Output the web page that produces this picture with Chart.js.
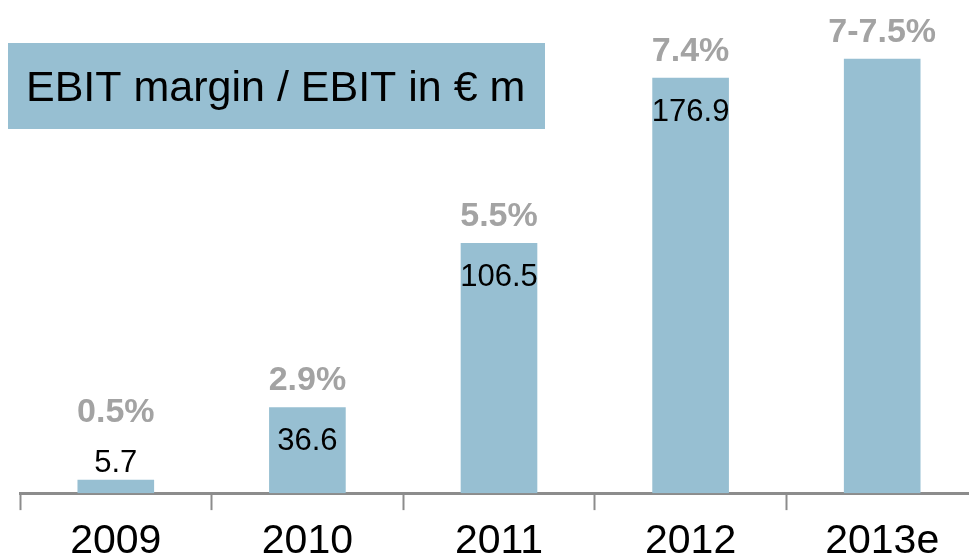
<!DOCTYPE html>
<html>
<head>
<meta charset="utf-8">
<script src="https://cdn.jsdelivr.net/npm/chart.js@4"></script>
<style>
html, body { margin: 0; padding: 0; overflow: hidden; background: #fff; }
#wrap { position: relative; width: 978px; height: 574px; }
</style>
</head>
<body>
<div id="wrap"><canvas id="ebit"></canvas></div>
<script>
var years = ['2009', '2010', '2011', '2012', '2013e'];
var ebit = [5.7, 36.6, 106.5, 176.9, 185];
var ebitLabels = ['5.7', '36.6', '106.5', '176.9', ''];
var margins = ['0.5%', '2.9%', '5.5%', '7.4%', '7-7.5%'];

var font = '"Liberation Sans", Arial, sans-serif';

var labelsPlugin = {
    id: 'labels',
    afterDatasetsDraw: function (chart) {
        var ctx = chart.ctx;
        var meta = chart.getDatasetMeta(0);
        ctx.save();
        ctx.textAlign = 'center';
        ctx.textBaseline = 'alphabetic';
        meta.data.forEach(function (bar, i) {
            var top = bar.y;
            var outside = (bar.base - top) < 50;
            ctx.fillStyle = '#000';
            ctx.font = '31px ' + font;
            if (ebitLabels[i]) {
                ctx.fillText(ebitLabels[i], bar.x, outside ? top - 8 : top + 43);
            }
            ctx.fillStyle = '#a3a3a3';
            ctx.font = 'bold 34px ' + font;
            ctx.fillText(margins[i], bar.x, outside ? top - 58 : top - 17);
        });
        // title box
        ctx.fillStyle = '#97bfd2';
        ctx.fillRect(8, 43, 537, 86);
        ctx.fillStyle = '#000';
        ctx.textAlign = 'left';
        ctx.font = '43px ' + font;
        ctx.fillText('EBIT margin / EBIT in \u20ac m', 26, 101);
        ctx.restore();
    }
};

var ctx = document.getElementById('ebit').getContext('2d');
var chart = new Chart(ctx, {
    type: 'bar',
    data: {
        labels: years,
        datasets: [{
            label: 'EBIT',
            data: ebit,
            backgroundColor: '#97bfd2',
            borderWidth: 0,
            barPercentage: 0.4,
            categoryPercentage: 1
        }]
    },
    options: {
        responsive: true,
        maintainAspectRatio: false,
        animation: false,
        layout: { padding: { left: 20, right: 0, top: 0, bottom: 0 } },
        plugins: {
            legend: { display: false },
            tooltip: { enabled: false }
        },
        scales: {
            x: {
                grid: {
                    display: true,
                    drawOnChartArea: false,
                    drawTicks: true,
                    tickLength: 17,
                    tickWidth: 2,
                    tickColor: '#8c8c8c'
                },
                border: { display: true, color: '#8c8c8c', width: 3 },
                ticks: {
                    color: '#000',
                    padding: 14,
                    font: { family: font, size: 41, lineHeight: 0.875 }
                }
            },
            y: {
                display: false,
                min: 0,
                max: 210
            }
        }
    },
    plugins: [labelsPlugin]
});
</script>
</body>
</html>
